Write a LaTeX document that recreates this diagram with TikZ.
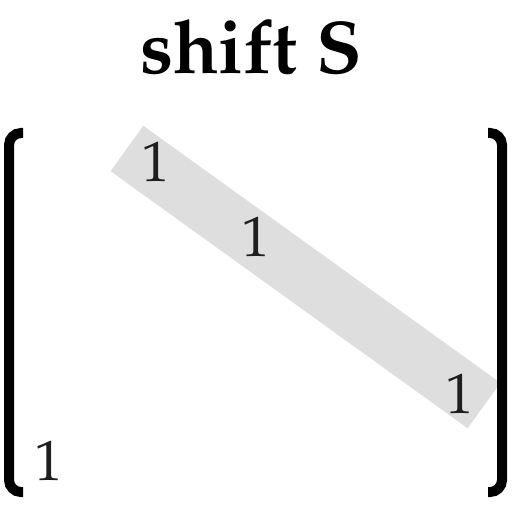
\documentclass[tikz,border=0pt]{standalone}
\usepackage[T1]{fontenc}
\usepackage{mathpazo}
\usetikzlibrary{positioning}
\tikzset{
	entry/.style={font=\fontsize{57}{62}\selectfont, text=black!88, inner sep=0pt, anchor=base},
	band/.style={fill=black!13, inner sep=0pt},
	bracket/.style={line width=10bp, rounded corners=12bp}
}
\begin{document}
\begin{tikzpicture}[x=1bp,y=-1bp]
	%%%%% START %%%%%
	\def\ytopb{133}
	\def\ybotb{492}
	\def\xl{9}
	\def\xr{502}
	\def\stub{14}
	
	\useasboundingbox (0,0) rectangle (527,525);
	
	\node[font=\bfseries\fontsize{75}{82}\selectfont, inner sep=0pt, anchor=base] (title) at (251,74) {shift S};
	
	\node[band, minimum width=440bp, minimum height=56bp, rotate=-35.75] (diag) at (305.5,277) {};
	
	\draw[bracket] (\xl+\stub,\ytopb) -- (\xl,\ytopb) -- (\xl,\ybotb) -- (\xl+\stub,\ybotb);
	\draw[bracket] (\xr-\stub,\ytopb) -- (\xr,\ytopb) -- (\xr,\ybotb) -- (\xr-\stub,\ybotb);
	
	\node[entry] (a12) at (156,182) {1};
	\node[entry] (a23) at (256,256) {1};
	\node[entry] (ann) at (460,413) {1};
	\node[entry] (an1) at (49,480) {1};
	%%%%% END %%%%%
\end{tikzpicture}
\end{document}
